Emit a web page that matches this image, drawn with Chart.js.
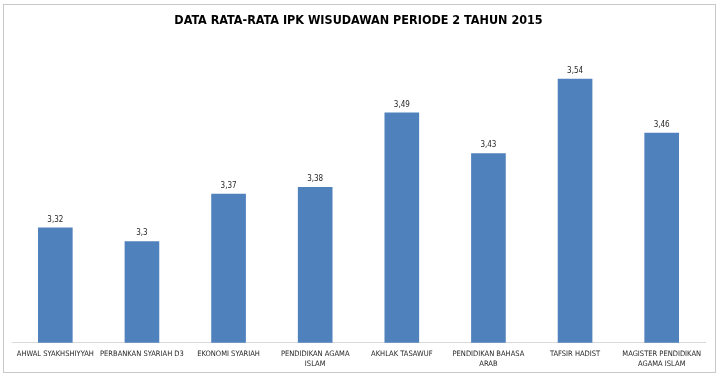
<!DOCTYPE html>
<html>
<head>
<meta charset="utf-8">
<script src="https://cdn.jsdelivr.net/npm/chart.js@4"></script>
<style>
    html, body { margin: 0; padding: 0; background: #ffffff; }
    #frame {
        position: absolute;
        left: 3px;
        top: 4px;
        width: 711px;
        height: 367px;
        border: 1px solid #c9c9c9;
    }
    #wrap { position: absolute; left: 0; top: 0; width: 719px; height: 377px; overflow: hidden; }
</style>
</head>
<body>
<div id="frame"></div>
<div id="wrap"><canvas id="chart" width="719" height="377"></canvas></div>
<script>
(function () {
    "use strict";

    const categories = [
        "AHWAL SYAKHSHIYYAH",
        "PERBANKAN SYARIAH D3",
        "EKONOMI SYARIAH",
        ["PENDIDIKAN AGAMA", "ISLAM"],
        "AKHLAK TASAWUF",
        ["PENDIDIKAN BAHASA", "ARAB"],
        "TAFSIR HADIST",
        ["MAGISTER PENDIDIKAN", "AGAMA ISLAM"],
    ];
    const ipkValues = [3.32, 3.3, 3.37, 3.38, 3.49, 3.43, 3.54, 3.46];
    const titleText = "DATA RATA-RATA IPK WISUDAWAN PERIODE 2 TAHUN 2015";

    const fontFamily = "'DejaVu Sans Condensed', 'Liberation Sans Narrow', sans-serif";

    // value labels above each bar, comma decimal like the original
    const valueLabels = {
        id: "valueLabels",
        afterDatasetsDraw(chart) {
            const ctx = chart.ctx;
            const meta = chart.getDatasetMeta(0);
            ctx.save();
            ctx.font = "8px " + fontFamily;
            ctx.fillStyle = "#262626";
            ctx.textAlign = "center";
            ctx.textBaseline = "middle";
            meta.data.forEach(function (bar, i) {
                const txt = String(ipkValues[i]).replace(".", ",");
                ctx.fillText(txt, bar.x, bar.y - 8);
            });
            ctx.restore();
        },
    };

    const ctx = document.getElementById("chart").getContext("2d");
    new Chart(ctx, {
        type: "bar",
        data: {
            labels: categories,
            datasets: [
                {
                    data: ipkValues,
                    backgroundColor: "#4f81bd",
                    borderWidth: 0,
                    categoryPercentage: 1,
                    barPercentage: 0.4,
                },
            ],
        },
        options: {
            responsive: false,
            animation: false,
            layout: {
                padding: { left: 12, right: 14, top: 0, bottom: 2 },
            },
            plugins: {
                legend: { display: false },
                tooltip: { enabled: false },
                title: {
                    display: true,
                    text: titleText,
                    color: "#000000",
                    font: { family: fontFamily, size: 12.5, weight: "bold" },
                    padding: { top: 13, bottom: 10 },
                },
            },
            scales: {
                x: {
                    grid: { display: false, drawTicks: false },
                    border: { display: true, color: "#d9d9d9", width: 1 },
                    ticks: {
                        color: "#262626",
                        font: { family: fontFamily, size: 7.5, lineHeight: 1.35 },
                        maxRotation: 0,
                        autoSkip: false,
                        padding: 6,
                    },
                },
                y: {
                    display: false,
                    min: 3.15,
                    max: 3.6,
                },
            },
        },
        plugins: [valueLabels],
    });
})();
</script>
</body>
</html>
